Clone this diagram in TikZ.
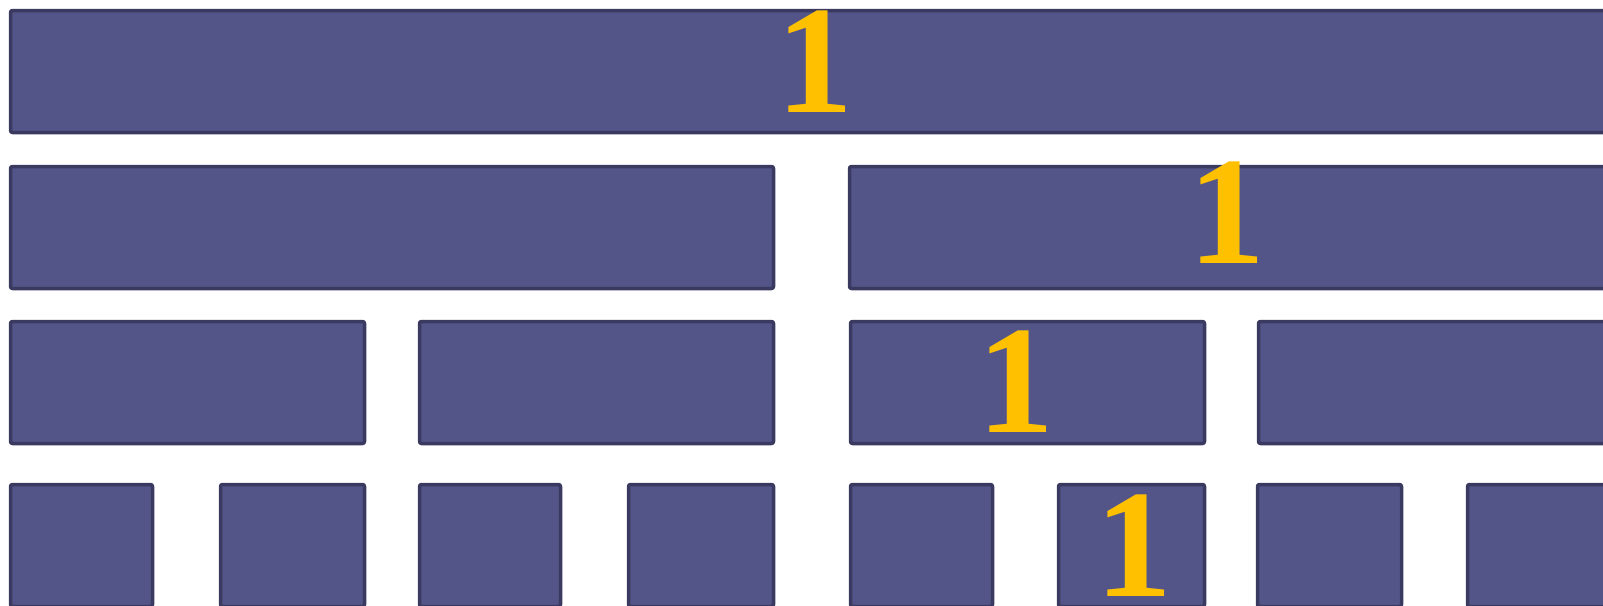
\documentclass[tikz,border=0pt]{standalone}
\usepackage{fontspec}
\setmainfont{Liberation Serif}
\definecolor{boxfill}{HTML}{535589}
\definecolor{boxline}{HTML}{3A3960}
\definecolor{numcol}{HTML}{FFC000}
\begin{document}
\begin{tikzpicture}[x=1pt,y=-1pt,
  blk/.style={draw=boxline, fill=boxfill, line width=3.5pt, line join=round, rounded corners=2pt},
  num/.style={text=numcol, font=\fontsize{154}{156}\selectfont\bfseries, inner sep=0pt, anchor=base}]
\useasboundingbox (0,0) rectangle (1603,605);
\clip (0,0) rectangle (1603,605);
% row 1
\draw[blk] (10.5,10.5) rectangle (1611.5,132.5);
% row 2
\foreach \a/\b in {9/775,848/1614}
  \draw[blk] (\a+1.5,166.5) rectangle (\b-1.5,288.5);
% row 3
\foreach \a/\b in {9/366,418/775,849/1206,1257/1614}
  \draw[blk] (\a+1.5,321.5) rectangle (\b-1.5,443.5);
% row 4
\foreach \a/\b in {9/154,219/366,418/562,627/775,849/994,1057/1206,1256/1403,1466/1614}
  \draw[blk] (\a+1.5,484.5) rectangle (\b-1.5,606.5);
% labels
\node[num] (n1) at (815,112) {1};
\node[num] (n2) at (1227,263) {1};
\node[num] (n3) at (1016,432) {1};
\node[num] (n4) at (1134,596) {1};
\end{tikzpicture}
\end{document}
